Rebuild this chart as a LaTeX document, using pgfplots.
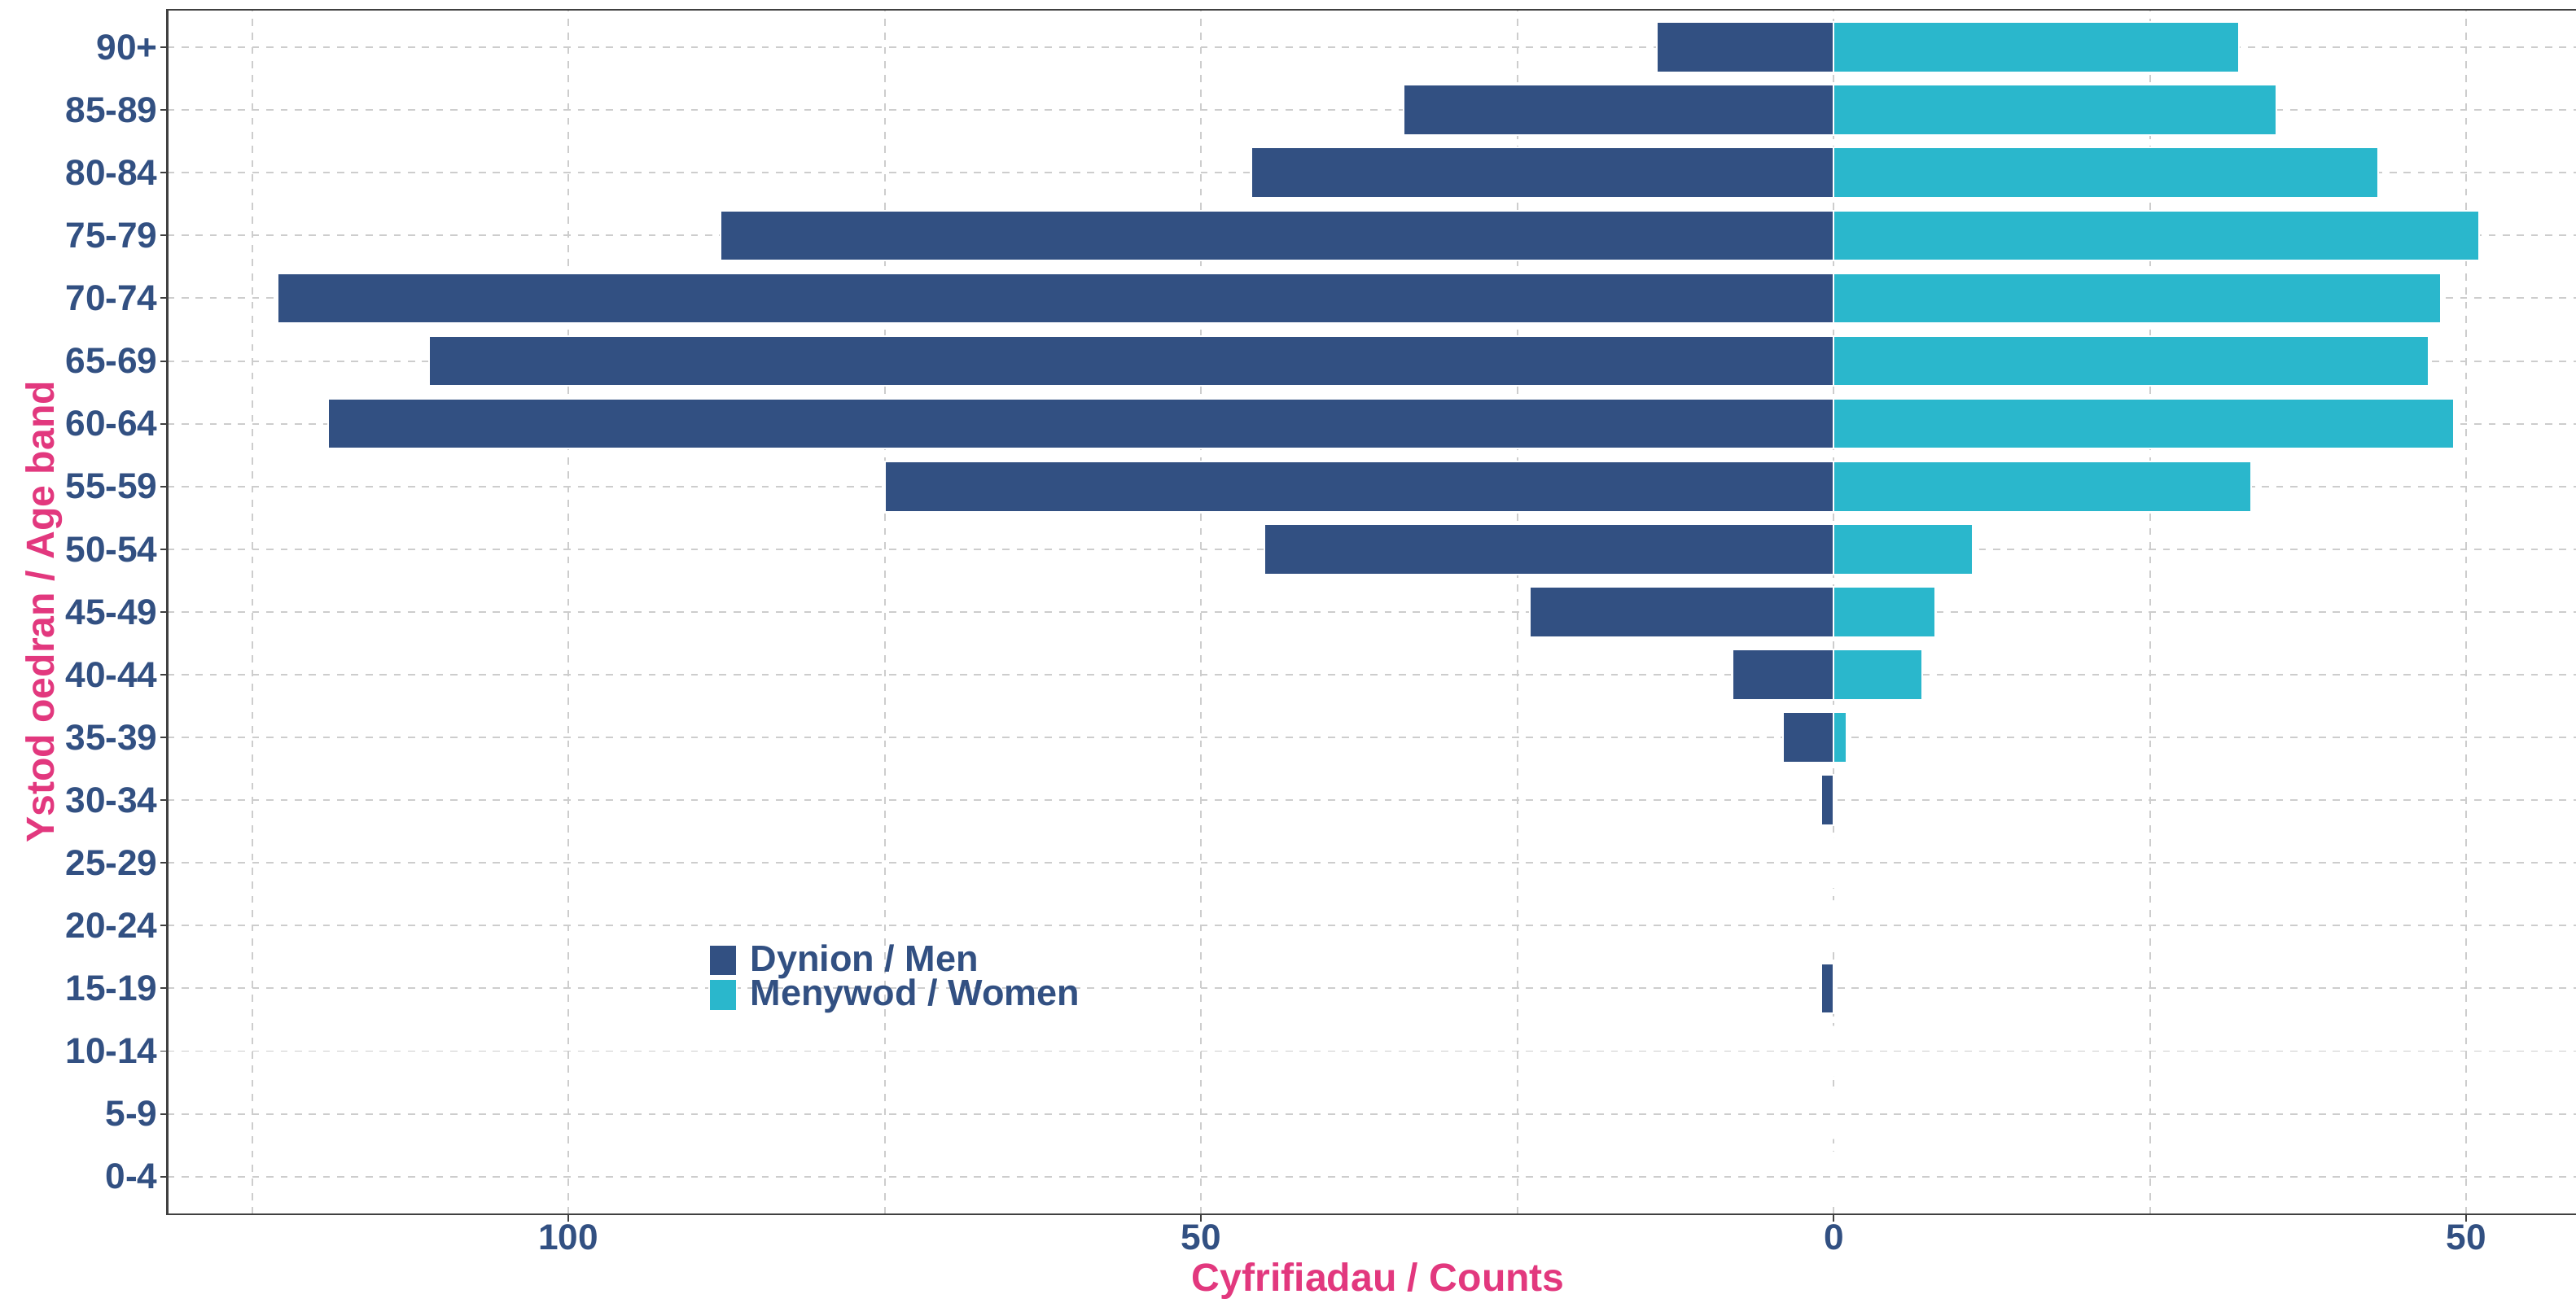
\documentclass[border=0pt]{standalone}
\usepackage{fontspec}
\setmainfont{Liberation Sans}
\usepackage{pgfplots}
\pgfplotsset{compat=1.18}
\usetikzlibrary{calc}

\definecolor{menblue}{RGB}{50,80,130}
\definecolor{womencyan}{RGB}{42,183,204}
\definecolor{titlepink}{RGB}{226,56,126}
\definecolor{gridgray}{RGB}{205,205,205}
\definecolor{axisgray}{RGB}{64,64,64}

\begin{document}
\begin{tikzpicture}
\begin{axis}[
    name=ax,
    scale only axis,
    width=752.9pt, height=374.6pt,
    xmin=-131.7, xmax=59.7,
    ymin=-0.6, ymax=18.6,
    xbar, bar width=0.8, bar shift=0pt,
    xtick={-100,-50,0,50},
    minor xtick={-125,-75,-25,25},
    xticklabel={\pgfmathparse{abs(\tick)}\pgfmathprintnumber{\pgfmathresult}},
    /pgf/number format/assume math mode=true,
    ytick={0,...,18},
    yticklabels={0-4,5-9,10-14,15-19,20-24,25-29,30-34,35-39,40-44,45-49,
        50-54,55-59,60-64,65-69,70-74,75-79,80-84,85-89,90+},
    xtick pos=bottom, ytick pos=left,
    tick align=outside,
    major tick length=2.2pt,
    minor tick length=0pt,
    tick style={axisgray, line width=0.5pt},
    axis line style={axisgray, line width=0.6pt},
    grid=both,
    major grid style={gridgray, line width=0.5pt, dash pattern=on 2.2pt off 2.2pt},
    minor grid style={gridgray, line width=0.5pt, dash pattern=on 2.2pt off 2.2pt},
    ticklabel style={font=\fontsize{11.2}{13}\selectfont\bfseries, text=menblue},
    yticklabel style={inner xsep=0pt, xshift=-0.6pt},
    xticklabel style={inner ysep=0pt, yshift=-0.8pt},
    xlabel={Cyfrifiadau / Counts},
    xlabel style={font=\fontsize{12.2}{14}\selectfont\bfseries, text=titlepink,
        at={(axis description cs:0.5,-0.0395)}, anchor=north, inner sep=0pt},
    ylabel={Ystod oedran / Age band},
    ylabel style={font=\fontsize{12.2}{14}\selectfont\bfseries, text=titlepink,
        at={(axis description cs:-0.0466,0.5)}, anchor=base, inner sep=0pt},
    legend cell align=left,
    legend image code/.code={\fill[#1] (0pt,-4.9pt) rectangle (8.6pt,4.9pt);},
    legend style={draw=none, fill=none, inner sep=0pt, row sep=0.4pt,
        at={(axis description cs:0.2231,0.225)}, anchor=north west,
        font=\fontsize{11.4}{13}\selectfont\bfseries, text=menblue,
        nodes={inner xsep=0pt, inner ysep=0pt},
        /tikz/every odd column/.append style={column sep=4.0pt}},
]
% Dynion / Men (plotted to the left)
\addplot[fill=menblue, draw=white, line width=0.5pt] coordinates {
    (0,0) (0,1) (0,2) (-1,3) (0,4) (0,5) (-1,6) (-4,7) (-8,8) (-24,9)
    (-45,10) (-75,11) (-119,12) (-111,13) (-123,14) (-88,15) (-46,16)
    (-34,17) (-14,18)
};
\addlegendentry{Dynion / Men}
% Menywod / Women
\addplot[fill=womencyan, draw=white, line width=0.5pt] coordinates {
    (0,0) (0,1) (0,2) (0,3) (0,4) (0,5) (0,6) (1,7) (7,8) (8,9)
    (11,10) (33,11) (49,12) (47,13) (48,14) (51,15) (43,16)
    (35,17) (32,18)
};
\addlegendentry{Menywod / Women}

\node[anchor=north, inner sep=0pt, font=\fontsize{9}{11}\selectfont, text=menblue]
    at (axis description cs:0.793,-0.0707)
    {Data sourced LTC, linked mortality data (WCISU), 2018-2022};
\end{axis}
\pgfresetboundingbox
\useasboundingbox ($(ax.south west)+(-52pt,-27.4pt)$) rectangle ($(ax.north east)+(-4.1pt,3pt)$);
\end{tikzpicture}
\end{document}
